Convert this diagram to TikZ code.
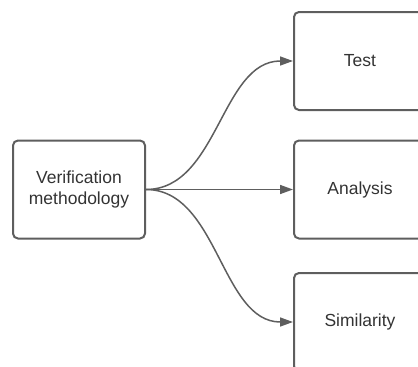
\documentclass[tikz,border=0pt]{standalone}
\usepackage{fontspec}
\setmainfont{Liberation Sans}
\usetikzlibrary{arrows.meta}
\definecolor{boxline}{HTML}{5E5E5E}
\definecolor{txt}{HTML}{333333}
\begin{document}
\begin{tikzpicture}[x=1pt,y=-1pt,
  box/.style={draw=boxline, line width=2pt, rounded corners=5pt, minimum width=132pt, minimum height=98pt,
    align=center, text=txt, font=\fontsize{17.5}{21.5}\selectfont, inner sep=0pt},
  link/.style={draw=boxline, line width=1.5pt, -{Triangle[length=13pt,width=9pt]}}]
\useasboundingbox (0,0) rectangle (418,367);
\clip (0,0) rectangle (418,367);
\node[box] (V) at (79,189.5) {Verification\\methodology};
\node[box] (T) at (360,61) {Test};
\node[box] (A) at (360,189.5) {Analysis};
\node[box] (S) at (360,322) {Similarity};
\draw[link] (V.east) .. controls +(72,0) and +(-72,0) .. (T.west);
\draw[link] (V.east) -- (A.west);
\draw[link] (V.east) .. controls +(72,0) and +(-72,0) .. (S.west);
\end{tikzpicture}
\end{document}
